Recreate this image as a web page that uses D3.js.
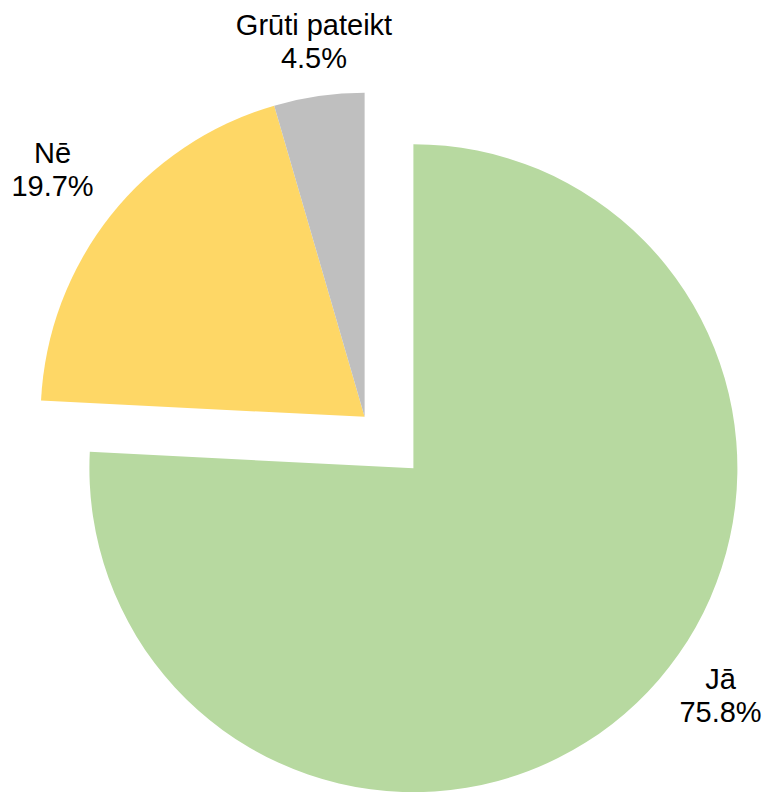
<!DOCTYPE html>
<html><head><meta charset="utf-8">
<script src="https://cdn.jsdelivr.net/npm/d3@7"></script>
<style>html,body{margin:0;padding:0;background:#fff;}</style>
</head><body>
<svg id="chart" width="767" height="792"></svg>
<script>
// ---- data ----
const categories = ["Jā", "Nē", "Grūti pateikt"];
const values = [75.8, 19.7, 4.5];
const valueLabels = ["75.8%", "19.7%", "4.5%"];
const explodeGroup = [0, 1, 1]; // slices pulled out together

// ---- layout / style ----
const colors = ["#b7d9a0", "#fed766", "#bfbfbf"];
const cx = 389, cy = 442.5, R = 324, explode = 35.4;
const labelPos = [ {x: 720.5, y: 689}, {x: 52.5, y: 163}, {x: 314, y: 35} ];
const lineGap = 33;

const svg = d3.select("#chart");
const pie = d3.pie().sort(null).value(d => d)(values);
const arc = d3.arc().innerRadius(0).outerRadius(R);

// group mid-angles
const groups = d3.group(pie.map((p, i) => ({p, g: explodeGroup[i]})), d => d.g);
const groupMid = new Map();
for (const [g, arr] of groups) {
  const a0 = d3.min(arr, d => d.p.startAngle), a1 = d3.max(arr, d => d.p.endAngle);
  groupMid.set(g, (a0 + a1) / 2);
}

const g = svg.append("g").attr("transform", `translate(${cx},${cy})`);
g.selectAll("path").data(pie).join("path")
  .attr("d", arc)
  .attr("fill", (d, i) => colors[i])
  .attr("transform", (d, i) => {
    const m = groupMid.get(explodeGroup[i]);
    return `translate(${explode * Math.sin(m)},${-explode * Math.cos(m)})`;
  });

const lab = svg.append("g").attr("font-family", "Liberation Sans, Arial, sans-serif")
  .attr("font-size", 29).attr("fill", "#000").attr("text-anchor", "middle");
categories.forEach((c, i) => {
  const t = lab.append("text").attr("x", labelPos[i].x).attr("y", labelPos[i].y);
  t.append("tspan").attr("x", labelPos[i].x).text(c);
  t.append("tspan").attr("x", labelPos[i].x).attr("dy", lineGap).text(valueLabels[i]);
});
</script>
</body></html>
